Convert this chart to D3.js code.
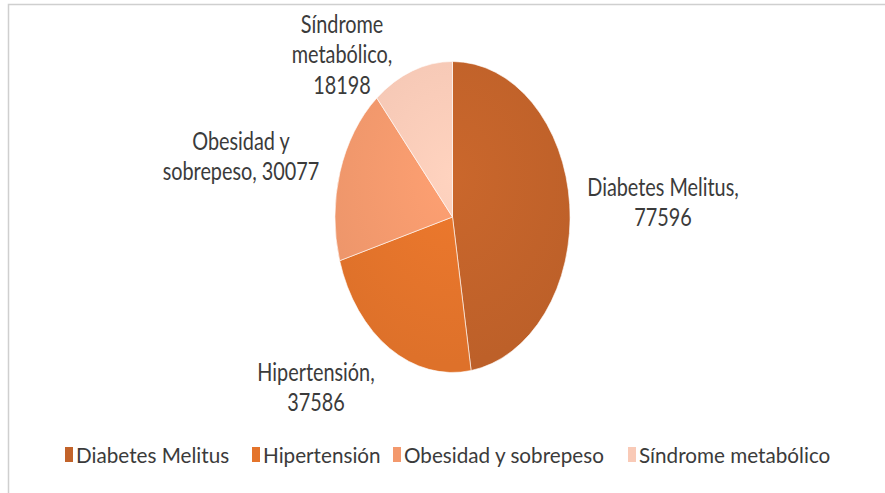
<!DOCTYPE html>
<html>
<head>
<meta charset="utf-8">
<script src="https://cdn.jsdelivr.net/npm/d3@7"></script>
<style>
  body { margin: 0; background: #fff; }
  svg { display: block; }
  text { font-family: Lato, "Open Sans", sans-serif; fill: #3b3b3b; }
</style>
</head>
<body>
<div id="root"></div>
<script>
const WIDTH = 885;
const HEIGHT = 493;

const categories = ['Diabetes Melitus', 'Hipertensión', 'Obesidad y sobrepeso', 'Síndrome metabólico'];
const values = [77596, 37586, 30077, 18198];
const colors = ['#c2632a', '#e4742b', '#f3996d', '#f9cab7'];
// slice labels as they wrap in the picture
const labelLines = [
    ['Diabetes Melitus,', '77596'],
    ['Hipertensión,', '37586'],
    ['Obesidad y', 'sobrepeso, 30077'],
    ['Síndrome', 'metabólico,', '18198']
];

const pieCenter = {x: 452.5, y: 217};
const ry = 155.5;
const squeeze = 0.756;        // the whole picture is narrowed horizontally
const labelPos = [[663, 196], [316, 381], [241, 150], [342, 33]];
const lineHeight = 30.5;

const svg = d3.select('#root').append('svg')
    .attr('width', WIDTH)
    .attr('height', HEIGHT);

svg.append('rect')
    .attr('x', 8.5)
    .attr('y', 4.5)
    .attr('width', WIDTH)
    .attr('height', HEIGHT)
    .attr('fill', 'none')
    .attr('stroke', '#cfcfcf')
    .attr('stroke-width', 1.5);

const data = categories.map((c, i) => ({name: c, value: values[i]}));
const color = d3.scaleOrdinal().domain(categories).range(colors);

const pie = d3.pie().sort(null).value(d => d.value);
const arc = d3.arc().innerRadius(0).outerRadius(ry);

const defs = svg.append('defs');
categories.forEach((c, i) => {
    const g = defs.append('radialGradient')
        .attr('id', `grad${i}`)
        .attr('gradientUnits', 'userSpaceOnUse')
        .attr('cx', 0).attr('cy', -40).attr('r', ry * 1.2);
    g.append('stop').attr('offset', '0%').attr('stop-color', d3.color(colors[i]).brighter(0.12));
    g.append('stop').attr('offset', '100%').attr('stop-color', d3.color(colors[i]).darker(0.08));
});

const pieG = svg.append('g')
    .attr('transform', `translate(${pieCenter.x}, ${pieCenter.y}) scale(${squeeze}, 1)`);

pieG.selectAll('path')
    .data(pie(data))
  .enter().append('path')
    .attr('d', arc)
    .attr('fill', (d, i) => `url(#grad${i})`)
    .attr('stroke', '#ffffff')
    .attr('stroke-opacity', 0.6)
    .attr('stroke-width', 1)
    .attr('vector-effect', 'non-scaling-stroke');

// slice labels
labelLines.forEach((lines, i) => {
    const t = svg.append('text')
        .attr('transform', `translate(${labelPos[i][0]}, ${labelPos[i][1]}) scale(0.81, 1)`)
        .style('font-size', '24.5px')
        .style('text-anchor', 'middle');
    lines.forEach((l, j) => {
        t.append('tspan')
            .attr('x', 0)
            .attr('y', j * lineHeight)
            .text(l);
    });
});

// legend
const legendX = [65, 252, 393, 628];
const legend = svg.selectAll('.legend')
    .data(categories)
  .enter().append('g')
    .attr('class', 'legend')
    .attr('transform', (d, i) => `translate(${legendX[i]}, 447)`);

legend.append('rect')
    .attr('width', 8)
    .attr('height', 15)
    .attr('fill', d => color(d));

legend.append('text')
    .attr('transform', 'translate(11, 16) scale(0.94, 1)')
    .style('font-size', '22px')
    .text(d => d);
</script>
</body>
</html>
